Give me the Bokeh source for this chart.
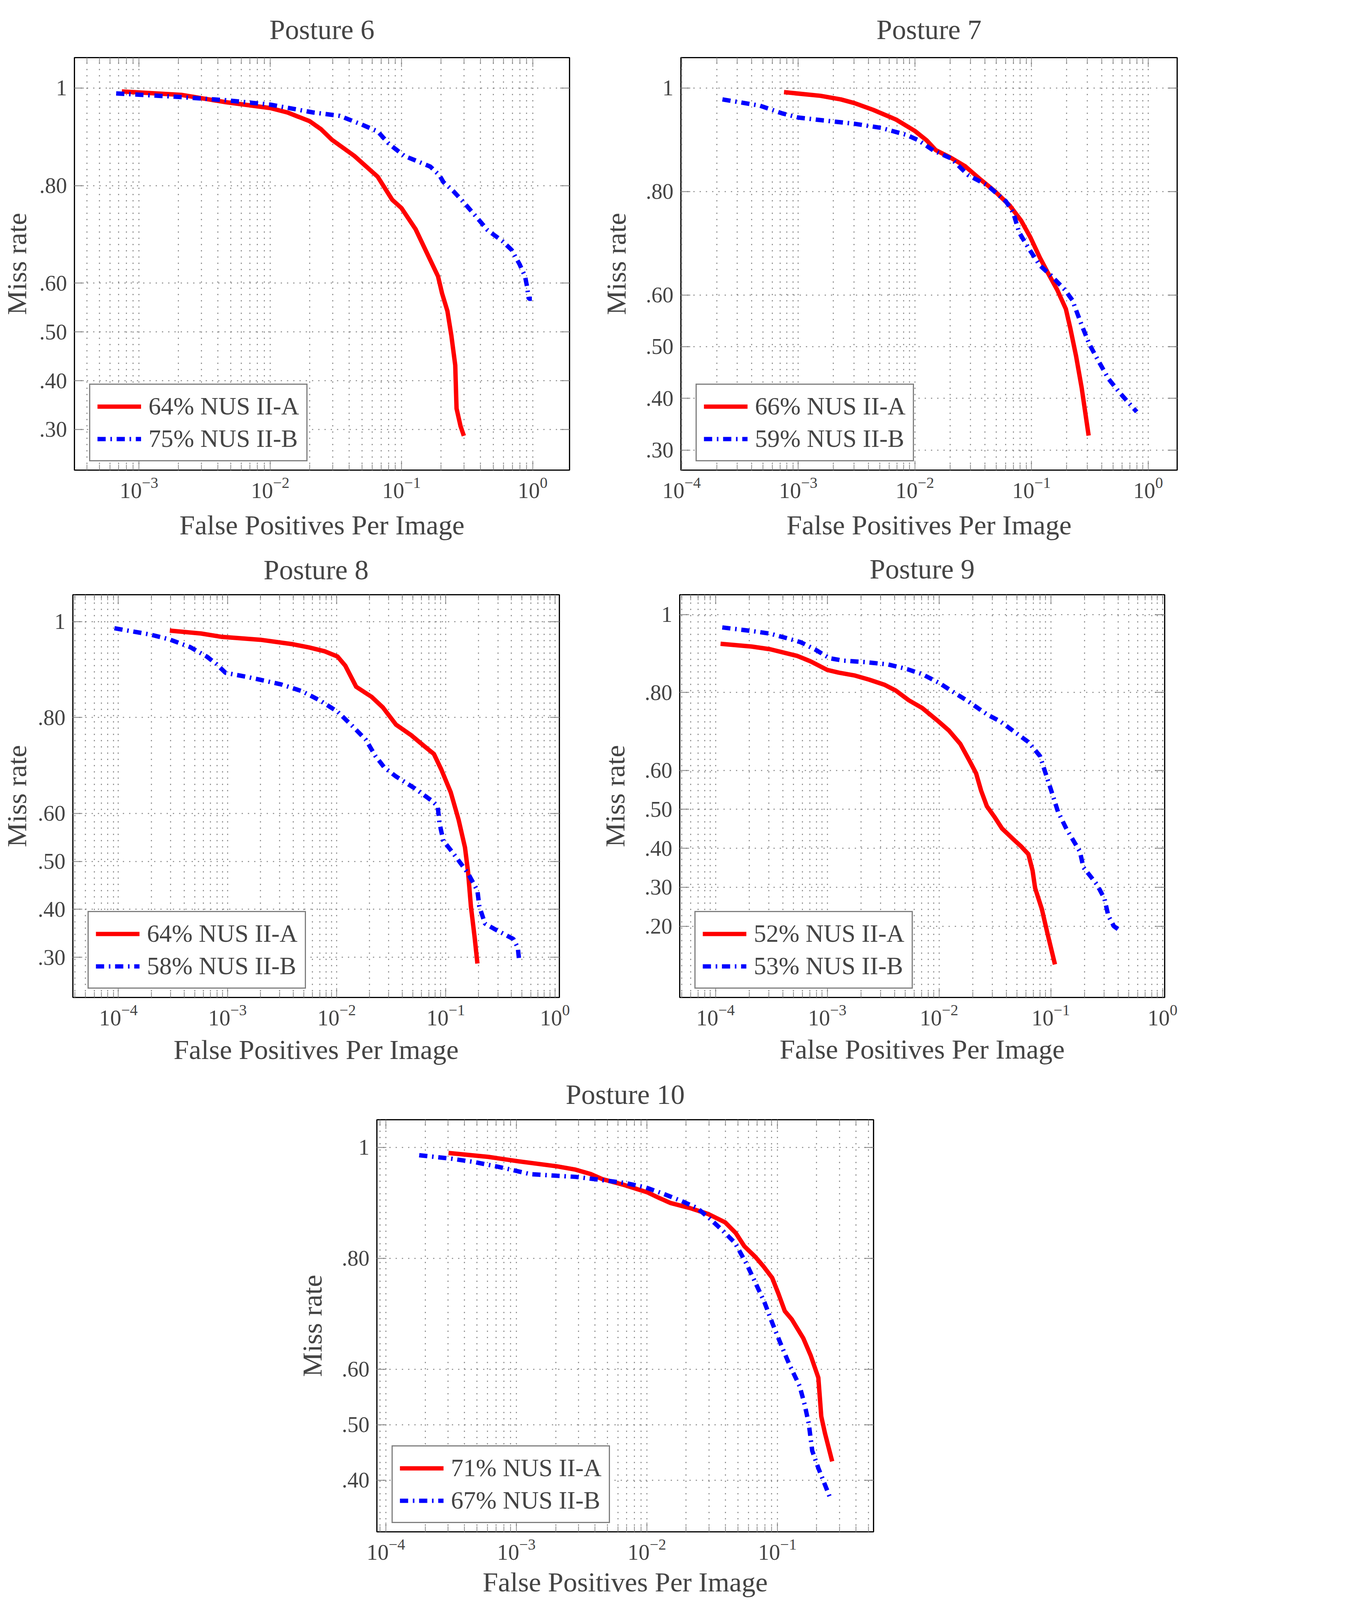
from bokeh.plotting import figure
from bokeh.models import FixedTicker, Range1d, LinearAxis, LogAxis, Spacer
from bokeh.layouts import column, row
from bokeh.embed import file_html
from bokeh.resources import INLINE

# ---- data (FPPI vs miss rate) ----
# Posture 6
p6_a_fppi = [7.4e-4, 2.1e-3, 4.6e-3, 0.010, 0.0135, 0.020, 0.0243, 0.0295, 0.0437, 0.066, 0.085,
             0.100, 0.128, 0.155, 0.19, 0.204, 0.224, 0.24, 0.257, 0.263, 0.282, 0.299]
p6_a_miss = [.993, .986, .971, .959, .95, .932, .916, .894, .861, .818, .771,
             .754, .711, .664, .614, .579, .543, .493, .432, .343, .307, .287]
p6_b_fppi = [6.7e-4, 1.95e-3, 4.6e-3, 0.010, 0.0212, 0.0339, 0.050, 0.066, 0.080, 0.105, 0.166, 0.195,
             0.209, 0.248, 0.302, 0.372, 0.452, 0.589, 0.692, 0.794, 0.875, 0.906, 0.933, 0.986]
p6_b_miss = [.989, .982, .975, .966, .95, .943, .925, .911, .886, .861, .839, .821,
             .807, .789, .764, .736, .709, .686, .668, .639, .614, .593, .568, .568]

# Posture 7
p7_a_fppi = [7.55e-4, 1.55e-3, 2.32e-3, 3.02e-3, 4.37e-3, 6.9e-3, 0.010, 0.0126, 0.0151, 0.0204, 0.0269, 0.0357,
             0.0482, 0.065, 0.0813, 0.098, 0.118, 0.138, 0.166, 0.197, 0.215, 0.241, 0.269, 0.309]
p7_a_miss = [.992, .985, .978, .971, .958, .939, .917, .899, .880, .865, .849, .825,
             .801, .773, .744, .711, .672, .643, .610, .573, .536, .482, .421, .328]
p7_b_fppi = [2.24e-4, 4.68e-4, 7.28e-4, 1.0e-3, 1.55e-3, 3.02e-3, 5.13e-3, 8.6e-3, 0.0107, 0.0145, 0.0204, 0.0285,
             0.0417, 0.0603, 0.070, 0.0783, 0.0946, 0.118, 0.148, 0.193, 0.224, 0.269, 0.313, 0.363, 0.457, 0.570, 0.798]
p7_b_miss = [.978, .966, .951, .943, .938, .931, .923, .909, .899, .879, .864, .832,
             .812, .781, .758, .721, .690, .657, .637, .610, .590, .542, .505, .478, .438, .411, .374]

# Posture 8
p8_a_fppi = [2.96e-4, 5.75e-4, 8.9e-4, 2.0e-3, 3.89e-3, 5.6e-3, 7.76e-3, 0.0102, 0.012, 0.0151, 0.0209, 0.0265,
             0.035, 0.0482, 0.0637, 0.0778, 0.0912, 0.111, 0.131, 0.150, 0.160, 0.170, 0.184, 0.195]
p8_a_miss = [.981, .975, .968, .962, .953, .946, .938, .927, .908, .864, .843, .821,
             .785, .763, .740, .724, .691, .644, .587, .529, .478, .406, .341, .287]
p8_b_fppi = [9.2e-5, 1.95e-4, 2.91e-4, 4.52e-4, 6.46e-4, 7.94e-4, 9.6e-4, 1.55e-3, 3.09e-3, 4.79e-3, 7.08e-3,
             0.0102, 0.0141, 0.0186, 0.0226, 0.0275, 0.035, 0.0521, 0.0748, 0.0843, 0.0877, 0.095, 0.116,
             0.160, 0.195, 0.203, 0.229, 0.279, 0.417, 0.457, 0.468, 0.49]
p8_b_miss = [.986, .973, .963, .947, .927, .911, .893, .884, .869, .855, .835,
             .812, .781, .753, .720, .695, .677, .652, .626, .615, .579, .543, .518,
             .475, .439, .406, .370, .359, .338, .320, .298, .298]

# Posture 9
p9_a_fppi = [1.11e-4, 2.1e-4, 3.09e-4, 5.37e-4, 7.08e-4, 1.0e-3, 1.27e-3, 1.74e-3, 2.37e-3, 3.24e-3, 4.1e-3,
             5.37e-3, 7.08e-3, 9.68e-3, 0.0123, 0.0155, 0.0188, 0.0215, 0.0238, 0.0268, 0.0313, 0.0366,
             0.0463, 0.0542, 0.063, 0.0687, 0.0724, 0.0832, 0.0933, 0.109]
p9_a_miss = [.925, .918, .911, .894, .880, .858, .851, .844, .833, .820, .805,
             .780, .760, .728, .702, .668, .624, .592, .548, .508, .481, .451,
             .423, .405, .385, .343, .298, .244, .182, .102]
p9_b_fppi = [1.15e-4, 2.1e-4, 3.09e-4, 4.27e-4, 5.8e-4, 7.94e-4, 1.05e-3, 1.38e-3, 2.19e-3, 3.51e-3, 5.19e-3,
             7.08e-3, 0.0101, 0.0138, 0.0181, 0.0268, 0.0352, 0.0463, 0.063, 0.080, 0.090, 0.101,
             0.116, 0.138, 0.182, 0.196, 0.259, 0.302, 0.327, 0.367, 0.430]
p9_b_miss = [.967, .958, .951, .940, .929, .909, .888, .882, .878, .872, .860,
             .847, .824, .799, .778, .744, .726, .701, .673, .637, .592, .548,
             .494, .450, .392, .351, .307, .271, .227, .200, .186]

# Posture 10
p10_a_fppi = [3.02e-4, 6.1e-4, 1.04e-3, 2.04e-3, 2.84e-3, 3.72e-3, 4.54e-3, 6.78e-3, 0.0101, 0.0124, 0.0151,
              0.0212, 0.0295, 0.0398, 0.0479, 0.0558, 0.0682, 0.078, 0.0912, 0.102, 0.114, 0.129,
              0.158, 0.180, 0.206, 0.217, 0.232, 0.263]
p10_a_miss = [.990, .983, .975, .966, .960, .952, .943, .932, .919, .909, .900,
              .891, .880, .865, .846, .822, .802, .786, .765, .736, .705, .690,
              .656, .625, .585, .515, .484, .434]
p10_b_fppi = [1.8e-4, 3.12e-4, 4.68e-4, 6.97e-4, 9.1e-4, 1.27e-3, 2.04e-3, 2.84e-3, 4.25e-3, 6.78e-3, 9.77e-3,
              0.0132, 0.0186, 0.0242, 0.0306, 0.0389, 0.0473, 0.0578, 0.0661, 0.0796, 0.0923, 0.109,
              0.125, 0.148, 0.162, 0.174, 0.185, 0.206, 0.252]
p10_b_miss = [.986, .980, .974, .966, .960, .952, .949, .947, .942, .936, .928,
              .917, .903, .891, .871, .848, .828, .791, .762, .721, .681, .639,
              .606, .570, .536, .502, .453, .422, .370]

legend_labels = {
    6: ["64% NUS II-A", "75% NUS II-B"],
    7: ["66% NUS II-A", "59% NUS II-B"],
    8: ["64% NUS II-A", "58% NUS II-B"],
    9: ["52% NUS II-A", "53% NUS II-B"],
    10: ["71% NUS II-A", "67% NUS II-B"],
}

x_major = [1e-5, 1e-4, 1e-3, 1e-2, 1e-1, 1.0]
x_minor = [k * d for d in [1e-5, 1e-4, 1e-3, 1e-2, 1e-1, 1.0] for k in range(2, 10)]
y_major = [0.2, 0.3, 0.4, 0.5, 0.6, 0.8, 1.0]
y_tick_labels = {0.2: ".20", 0.3: ".30", 0.4: ".40", 0.5: ".50", 0.6: ".60", 0.8: ".80", 1.0: "1"}

FONT = "Liberation Serif"
GRID = "#808080"
S = 0.885  # page px per reference px


def px(v):
    return int(round(v * S))


def fs(v):
    return "%.1fpx" % (v * S)


def style_ticks(ax_):
    ax_.axis_line_color = None
    ax_.major_tick_in = px(27)
    ax_.major_tick_out = 0
    ax_.minor_tick_in = px(16)
    ax_.minor_tick_out = 0
    ax_.major_tick_line_color = GRID
    ax_.major_tick_line_width = 2 * S
    ax_.minor_tick_line_color = GRID
    ax_.minor_tick_line_width = 2 * S


def panel(title, ax, ay, bx, by, labels, xr, yr, width, height, borders, ylab_off, xlab_off, title_off):
    left, right, top, bottom = borders
    p = figure(title=title, x_axis_type="log", width=px(width), height=px(height),
               x_range=Range1d(10 ** xr[0], 10 ** xr[1]), y_range=Range1d(*yr),
               min_border_left=px(left), min_border_right=px(right),
               min_border_top=px(top), min_border_bottom=px(bottom),
               toolbar_location=None, output_backend="svg",
               x_axis_label="False Positives Per Image", y_axis_label="Miss rate")
    p.title.text_font = FONT
    p.title.text_font_size = fs(81)
    p.title.text_font_style = "normal"
    p.title.align = "center"
    p.title.standoff = px(title_off)

    xt = FixedTicker(ticks=x_major, minor_ticks=x_minor)
    yt = FixedTicker(ticks=y_major)
    p.xaxis.ticker = xt
    p.yaxis.ticker = yt
    p.xgrid.ticker = xt
    p.ygrid.ticker = yt
    p.yaxis.major_label_overrides = y_tick_labels

    for ax_ in (p.xaxis[0], p.yaxis[0]):
        style_ticks(ax_)
        ax_.major_label_text_font = FONT
        ax_.major_label_text_font_size = fs(64)
        ax_.axis_label_text_font = FONT
        ax_.axis_label_text_font_size = fs(80)
        ax_.axis_label_text_font_style = "normal"
        ax_.major_label_standoff = px(21)
    p.yaxis.axis_label_standoff = px(ylab_off)
    p.xaxis.axis_label_standoff = px(xlab_off)

    # mirrored ticks on top and right
    top_ax = LogAxis(ticker=xt, major_label_text_font_size="1px", major_label_text_color=None,
                     major_label_standoff=0)
    right_ax = LinearAxis(ticker=yt, major_label_text_font_size="1px", major_label_text_color=None,
                          major_label_standoff=0)
    style_ticks(top_ax)
    style_ticks(right_ax)
    p.add_layout(top_ax, "above")
    p.add_layout(right_ax, "right")

    dash = "%d %d" % (max(2, px(3)), px(15))
    p.xgrid.grid_line_color = GRID
    p.xgrid.grid_line_width = 3 * S
    p.xgrid.grid_line_dash = dash
    p.xgrid.minor_grid_line_color = GRID
    p.xgrid.minor_grid_line_width = 3 * S
    p.xgrid.minor_grid_line_dash = dash
    p.ygrid.grid_line_color = GRID
    p.ygrid.grid_line_width = 3 * S
    p.ygrid.grid_line_dash = dash

    p.outline_line_color = "black"
    p.outline_line_width = 3.5 * S

    p.line(ax, ay, color="#ff0000", line_width=12.7 * S, line_join="round", legend_label=labels[0])
    p.line(bx, by, color="#0000ff", line_width=12.7 * S,
           line_dash="%d %d %d %d" % (px(24), px(13), px(4), px(14)), legend_label=labels[1])

    lg = p.legend[0]
    lg.location = (px(43), px(25))
    lg.margin = 0
    lg.padding = px(20)
    lg.spacing = px(10)
    lg.glyph_width = px(127)
    lg.glyph_height = px(80)
    lg.label_height = px(80)
    lg.label_standoff = px(21)
    lg.label_text_font = FONT
    lg.label_text_font_size = fs(72)
    lg.border_line_color = "black"
    lg.border_line_width = 3.5 * S
    lg.background_fill_alpha = 1
    return p


p6 = panel("Posture 6", p6_a_fppi, p6_a_miss, p6_b_fppi, p6_b_miss, legend_labels[6],
           (-3.492, 0.281), (0.2167, 1.0624), 1712, 1567, (211, 66, 166, 208), 18, 31, 72)
p7 = panel("Posture 7", p7_a_fppi, p7_a_miss, p7_b_fppi, p7_b_miss, legend_labels[7],
           (-4.006, 0.249), (0.2613, 1.0588), 1714, 1567, (256, 23, 166, 207), 38, 31, 72)
p8 = panel("Posture 8", p8_a_fppi, p8_a_miss, p8_b_fppi, p8_b_miss, legend_labels[8],
           (-4.417, 0.041), (0.2162, 1.0559), 1712, 1520, (207, 95, 146, 202), 14, 23, 53)
p9 = panel("Posture 9", p9_a_fppi, p9_a_miss, p9_b_fppi, p9_b_miss, legend_labels[9],
           (-4.32, 0.019), (0.0171, 1.051), 1714, 1520, (253, 59, 152, 200), 38, 21, 58)
p10 = panel("Posture 10", p10_a_fppi, p10_a_miss, p10_b_fppi, p10_b_miss, legend_labels[10],
            (-4.069, -0.263), (0.307, 1.050), 1773, 1541, (237, 100, 151, 198), 38, 17, 57)

layout = column(row(p6, p7), row(p8, p9), row(Spacer(width=px(852), height=10), p10))

open("out.html", "w").write(file_html(layout, INLINE))
